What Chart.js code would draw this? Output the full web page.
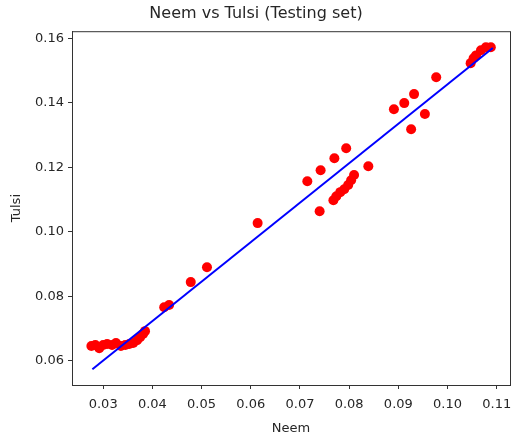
<!DOCTYPE html>
<html>
<head>
<meta charset="utf-8">
<script src="https://cdn.jsdelivr.net/npm/chart.js@4"></script>
<style>
  body { margin: 0; background: #fff; }
  canvas { display: block; }
</style>
</head>
<body>
<canvas id="myChart" width="515" height="443"></canvas>
<script>
// testing set points
const neemX = [
  0.0276, 0.0284, 0.0292, 0.0300, 0.0308, 0.0318, 0.0326, 0.0336, 0.0345, 0.0353,
  0.0361, 0.0369, 0.0375, 0.0381, 0.0385,
  0.0424, 0.0434, 0.0478, 0.0511, 0.0614,
  0.0715, 0.0742, 0.0770, 0.0794, 0.0839, 0.0740,
  0.0768, 0.0774, 0.0782, 0.0790, 0.0798, 0.0804, 0.0810,
  0.0891, 0.0912, 0.0932, 0.0977, 0.0954, 0.0926,
  0.1047, 0.1053, 0.1058, 0.1068, 0.1078, 0.1088
];
const tulsiY = [
  0.0646, 0.0649, 0.0639, 0.0649, 0.0652, 0.0649, 0.0655, 0.0646, 0.0649, 0.0652,
  0.0655, 0.0664, 0.0673, 0.0683, 0.0692,
  0.0766, 0.0773, 0.0844, 0.0890, 0.1027,
  0.1157, 0.1191, 0.1228, 0.1259, 0.1203, 0.1064,
  0.1098, 0.1110, 0.1123, 0.1132, 0.1145, 0.1160, 0.1176,
  0.1380, 0.1399, 0.1427, 0.1479, 0.1365, 0.1318,
  0.1523, 0.1538, 0.1547, 0.1563, 0.1572, 0.1572
];
// fitted line end points
const fitX = [0.0278, 0.1092];
const fitY = [0.0574, 0.1570];

const xTicks = [0.03, 0.04, 0.05, 0.06, 0.07, 0.08, 0.09, 0.10, 0.11];
const yTicks = [0.06, 0.08, 0.10, 0.12, 0.14, 0.16];

const txt = '#262626';
const tickFont = { family: 'DejaVu Sans', size: 13 };

// full box round the plot like matplotlib
const frame = {
  id: 'frame',
  afterDraw: (chart) => {
    const a = chart.chartArea;
    const c = chart.ctx;
    c.save();
    c.strokeStyle = '#333';
    c.lineWidth = 1;
    c.strokeRect(a.left + 0.5, a.top + 0.5, a.right - a.left, a.bottom - a.top);
    c.restore();
  },
};

const data = {
  datasets: [
    {
      type: 'line',
      data: fitX.map((x, i) => ({ x: x, y: fitY[i] })),
      borderColor: '#0000ff',
      borderWidth: 2,
      pointRadius: 0,
      fill: false,
      order: 0,
    },
    {
      type: 'scatter',
      data: neemX.map((x, i) => ({ x: x, y: tulsiY[i] })),
      backgroundColor: '#ff0000',
      borderWidth: 0,
      pointRadius: 5,
      order: 1,
    },
  ],
};

const config = {
  type: 'scatter',
  data: data,
  plugins: [frame],
  options: {
    responsive: false,
    animation: false,
    devicePixelRatio: 1,
    layout: { padding: { left: 0, right: 3, top: 0, bottom: 0 } },
    plugins: {
      legend: { display: false },
      tooltip: { enabled: false },
      title: {
        display: true,
        text: 'Neem vs Tulsi (Testing set)',
        color: txt,
        font: { family: 'DejaVu Sans', size: 16, weight: 'normal' },
        padding: { top: 4, bottom: 8 },
      },
    },
    scales: {
      x: {
        type: 'linear',
        min: 0.02366,
        max: 0.1127,
        afterBuildTicks: (s) => {
          s.ticks = xTicks.map((v) => ({ value: v }));
        },
        afterFit: (s) => {
          s.height = 58;
          s.paddingLeft = 0;
          s.paddingRight = 0;
        },
        ticks: {
          color: txt,
          font: tickFont,
          padding: 8,
          maxRotation: 0,
          callback: (v) => v.toFixed(2),
        },
        grid: {
          drawOnChartArea: false,
          tickLength: 4,
          tickColor: '#333',
        },
        border: { color: '#333', width: 1 },
        title: {
          display: true,
          text: 'Neem',
          color: txt,
          font: { family: 'DejaVu Sans', size: 13 },
          padding: { top: 7, bottom: 7 },
        },
      },
      y: {
        type: 'linear',
        min: 0.0525,
        max: 0.1622,
        afterBuildTicks: (s) => {
          s.ticks = yTicks.map((v) => ({ value: v }));
        },
        afterFit: (s) => {
          s.width = 72;
          s.paddingTop = 0;
          s.paddingBottom = 0;
        },
        ticks: {
          color: txt,
          font: tickFont,
          padding: 4,
          callback: (v) => v.toFixed(2),
        },
        grid: {
          drawOnChartArea: false,
          tickLength: 4,
          tickColor: '#333',
        },
        border: { color: '#333', width: 1 },
        title: {
          display: true,
          text: 'Tulsi',
          color: txt,
          font: { family: 'DejaVu Sans', size: 13 },
          padding: { top: 9, bottom: 4 },
        },
      },
    },
  },
};

const ctx = document.getElementById('myChart');
try {
  const chart = new Chart(ctx, config);
} catch (e) {
  console.log(e);
}
</script>
</body>
</html>
